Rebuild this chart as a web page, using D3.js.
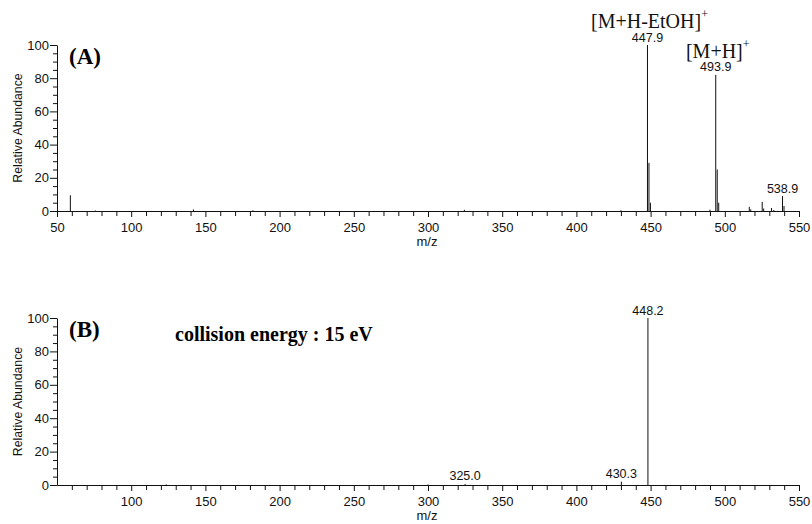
<!DOCTYPE html>
<html>
<head>
<meta charset="utf-8">
<script src="https://cdn.jsdelivr.net/npm/d3@7"></script>
<style>
  body { margin: 0; background: #fff; }
  svg { display: block; }
  .tick text { font-family: "Liberation Sans", Arial, sans-serif; font-size: 13px; fill: #111; }
  .axis path, .axis line { stroke: #111; stroke-width: 1; }
</style>
</head>
<body>
<svg id="chart" width="812" height="524"></svg>
<script>
// panel A: full scan
var mzA = [59.0, 76.0, 142.0, 182.0, 324.5, 430.0, 447.9, 448.9, 449.9, 490.0, 493.9, 494.9, 495.9, 516.5, 517.5, 525.2, 526.2, 531.5, 533.0, 538.9, 539.9];
var intA = [9.5, 0.3, 0.9, 0.4, 0.7, 0.4, 100, 29, 5, 0.8, 82, 25, 5, 2.5, 1, 5.5, 1.5, 1.8, 0.6, 9, 3];
// panel B: MS/MS at 15 eV
var mzB = [123.6, 300.0, 325.0, 430.3, 448.2];
var intB = [0.4, 0.3, 0.6, 2.0, 100];

var peakLabelsA = ["447.9", "493.9", "538.9"];
var peakLabelsB = ["325.0", "430.3", "448.2"];
var ionLabels = [["447.9", "[M+H-EtOH]"], ["493.9", "[M+H]"]];

var xTicksA = [50, 100, 150, 200, 250, 300, 350, 400, 450, 500, 550];
var xTicksB = [100, 150, 200, 250, 300, 350, 400, 450, 500, 550];
var yTicks = [0, 20, 40, 60, 80, 100];

var svg = d3.select('#chart');

var x = d3.scaleLinear().domain([50, 550]).range([57, 799]);

var minorX = d3.range(60, 550, 10).filter(d => d % 50 != 0);
var minorY = d3.range(5, 100, 5).filter(d => d % 20 != 0);

var sans = '"Liberation Sans", Arial, sans-serif';
var serif = '"Liberation Serif", "Times New Roman", serif';

function drawPanel(top, bottom, mz, inten, tickVals, labels, tag) {
  var y = d3.scaleLinear().domain([0, 100]).range([bottom, top]);
  var g = svg.append('g');

  // minor ticks first
  g.append('g').attr('class', 'axis')
    .attr('transform', `translate(0, ${bottom})`)
    .call(d3.axisBottom(x).tickValues(minorX).tickSize(5).tickFormat(''))
    .select('.domain').remove();
  g.append('g').attr('class', 'axis')
    .attr('transform', `translate(${x(50)}, 0)`)
    .call(d3.axisLeft(y).tickValues(minorY).tickSize(4).tickFormat(''))
    .select('.domain').remove();

  g.append('g').attr('class', 'axis')
    .attr('transform', `translate(0, ${bottom})`)
    .call(d3.axisBottom(x).tickValues(tickVals).tickSize(6).tickSizeOuter(0).tickPadding(6));
  g.append('g').attr('class', 'axis')
    .attr('transform', `translate(${x(50)}, 0)`)
    .call(d3.axisLeft(y).tickValues(yTicks).tickSize(7).tickSizeOuter(0).tickPadding(1));

  // peaks
  g.selectAll('line.peak')
    .data(mz)
    .enter()
    .append('line')
    .attr('class', 'peak')
    .attr('x1', d => x(d)).attr('x2', d => x(d))
    .attr('y1', y(0))
    .attr('y2', (d, i) => y(inten[i]))
    .attr('stroke', '#111')
    .attr('stroke-width', 1);

  // peak m/z labels
  g.selectAll('text.plab')
    .data(labels)
    .enter()
    .append('text')
    .attr('class', 'plab')
    .attr('x', d => x(+d))
    .attr('y', d => {
      var i = mz.findIndex(m => Math.abs(m - +d) < 0.05);
      return y(inten[i]) - 3.5;
    })
    .attr('text-anchor', 'middle')
    .style('font-family', sans)
    .style('font-size', '12.5px')
    .attr('fill', '#111')
    .text(d => d);

  // axis titles
  g.append('text')
    .attr('transform', `translate(22, ${(top + bottom) / 2}) rotate(-90)`)
    .attr('text-anchor', 'middle')
    .style('font-family', sans)
    .style('font-size', '12.3px')
    .attr('fill', '#111')
    .text('Relative Abundance');
  g.append('text')
    .attr('x', 427)
    .attr('y', bottom + 35)
    .attr('text-anchor', 'middle')
    .style('font-family', sans)
    .style('font-size', '13px')
    .attr('fill', '#111')
    .text('m/z');

  g.append('text')
    .attr('x', 69)
    .attr('y', top + 19)
    .style('font-family', serif)
    .style('font-size', '23px')
    .style('font-weight', 'bold')
    .attr('fill', '#000')
    .text(tag);

  return y;
}

var yA = drawPanel(45, 211, mzA, intA, xTicksA, peakLabelsA, '(A)');
var yB = drawPanel(318, 485, mzB, intB, xTicksB, peakLabelsB, '(B)');

// ion annotations for panel A
ionLabels.forEach(function(d) {
  var i = mzA.findIndex(m => Math.abs(m - +d[0]) < 0.05);
  var t = svg.append('text')
    .attr('x', x(+d[0]) + 2)
    .attr('y', yA(intA[i]) - 17)
    .attr('text-anchor', 'middle')
    .style('font-family', serif)
    .style('font-size', '20px')
    .attr('fill', '#111');
  t.append('tspan').text(d[1]);
  t.append('tspan').attr('dy', -10).style('font-size', '12px').text('+');
});

svg.append('text')
  .attr('x', 175)
  .attr('y', 341)
  .style('font-family', serif)
  .style('font-size', '20px')
  .style('font-weight', 'bold')
  .attr('fill', '#000')
  .text('collision energy : 15 eV');
</script>
</body>
</html>
